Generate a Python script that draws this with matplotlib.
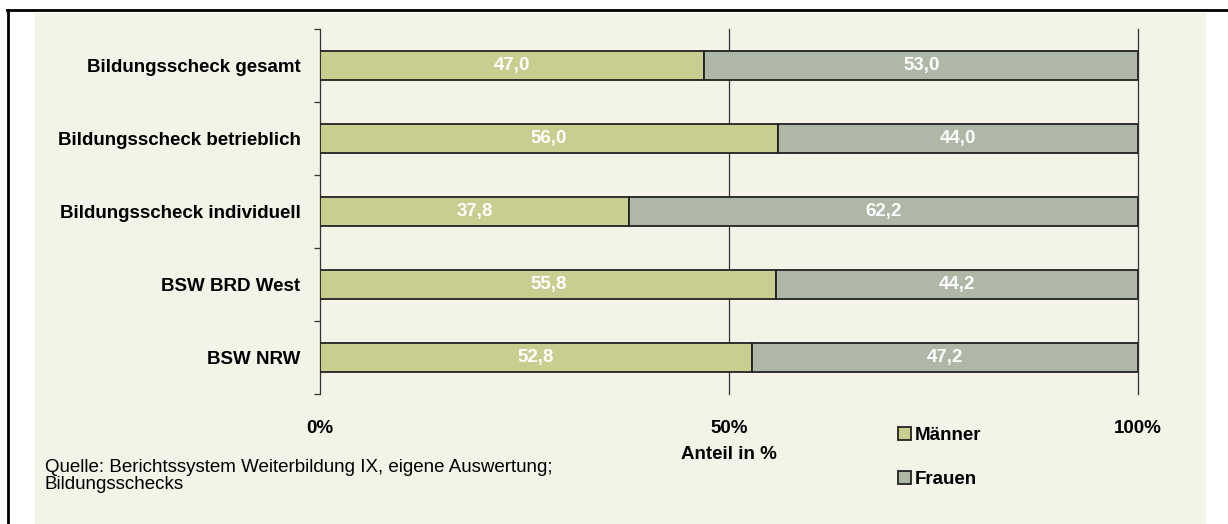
import matplotlib.pyplot as plt
from matplotlib.patches import Rectangle
from matplotlib.lines import Line2D

plt.rcParams['font.family'] = ['Liberation Sans', 'DejaVu Sans']

# Data
categories = ["Bildungsscheck gesamt", "Bildungsscheck betrieblich",
              "Bildungsscheck individuell", "BSW BRD West", "BSW NRW"]
maenner = [47.0, 56.0, 37.8, 55.8, 52.8]
frauen = [53.0, 44.0, 62.2, 44.2, 47.2]
tick_labels = ["0%", "50%", "100%"]

W, H = 1228, 524
fs = 13.5
fig = plt.figure(figsize=(W / 100, H / 100), dpi=100)
fig.patch.set_facecolor("white")

# beige panel + black frame
fig.patches.append(Rectangle((35 / W, 0), (1206 - 35) / W, (H - 13) / H,
                             transform=fig.transFigure, facecolor="#F3F3E7",
                             edgecolor="none", zorder=-5))
fig.lines.append(Line2D([7 / W, 1], [1 - 10 / H, 1 - 10 / H], transform=fig.transFigure,
                        color="black", lw=2))
fig.lines.append(Line2D([8 / W, 8 / W], [0, 1 - 10 / H], transform=fig.transFigure,
                        color="black", lw=2))

ax = fig.add_axes([320 / W, 1 - 394 / H, (1138 - 320) / W, (394 - 29) / H])
ax.set_facecolor("none")
ax.set_zorder(2)

y = list(range(len(categories)))
c_m = "#C9CD8F"
c_f = "#AFB8A6"
b1 = ax.barh(y, maenner, height=0.4, color=c_m, edgecolor="#222222", lw=1.3,
             label="Männer", zorder=3)
b2 = ax.barh(y, frauen, left=maenner, height=0.4, color=c_f, edgecolor="#222222",
             lw=1.3, label="Frauen", zorder=3)

for i in y:
    ax.text(maenner[i] / 2, i, f"{maenner[i]:.1f}".replace(".", ","), ha="center",
            va="center", color="white", fontweight="bold", fontsize=fs, zorder=4)
    ax.text(maenner[i] + frauen[i] / 2, i, f"{frauen[i]:.1f}".replace(".", ","),
            ha="center", va="center", color="white", fontweight="bold", fontsize=fs,
            zorder=4)

ax.set_xlim(0, 100)
ax.set_ylim(len(categories) - 0.5, -0.5)
for xv in [50, 100]:
    ax.axvline(xv, color="#333333", lw=0.9, zorder=1, clip_on=False)

for s in ["top", "right", "bottom"]:
    ax.spines[s].set_visible(False)
ax.spines["left"].set_color("#333333")
ax.spines["left"].set_linewidth(0.9)

ax.set_yticks(y)
ax.set_yticklabels(categories, fontweight="bold", fontsize=fs)
ax.tick_params(axis="y", which="major", length=0, pad=14)
ax.set_yticks([i - 0.5 for i in range(len(categories) + 1)], minor=True)
ax.tick_params(axis="y", which="minor", length=4, color="#333333", width=0.9)

ax.set_xticks([0, 50, 100])
ax.set_xticklabels(tick_labels, fontweight="bold", fontsize=fs)
ax.tick_params(axis="x", length=0, pad=19)
ax.set_xlabel("Anteil in %", fontweight="bold", fontsize=fs)
ax.xaxis.set_label_coords(729 / W, 1 - 446 / H, transform=fig.transFigure)

ax.legend(handles=[b1, b2], loc="upper left", bbox_to_anchor=(881 / W, 1 - 410 / H),
          bbox_transform=fig.transFigure, frameon=False,
          prop={"weight": "bold", "size": fs}, handlelength=0.7, handleheight=0.7,
          handletextpad=0.2, labelspacing=1.45)

fig.text(45 / W, 1 - 476 / H, "Quelle: Berichtssystem Weiterbildung IX, eigene Auswertung;\nBildungsschecks",
         fontsize=13.5, va="center", ha="left", linespacing=1.07)

fig.savefig("out.png", dpi=100)
